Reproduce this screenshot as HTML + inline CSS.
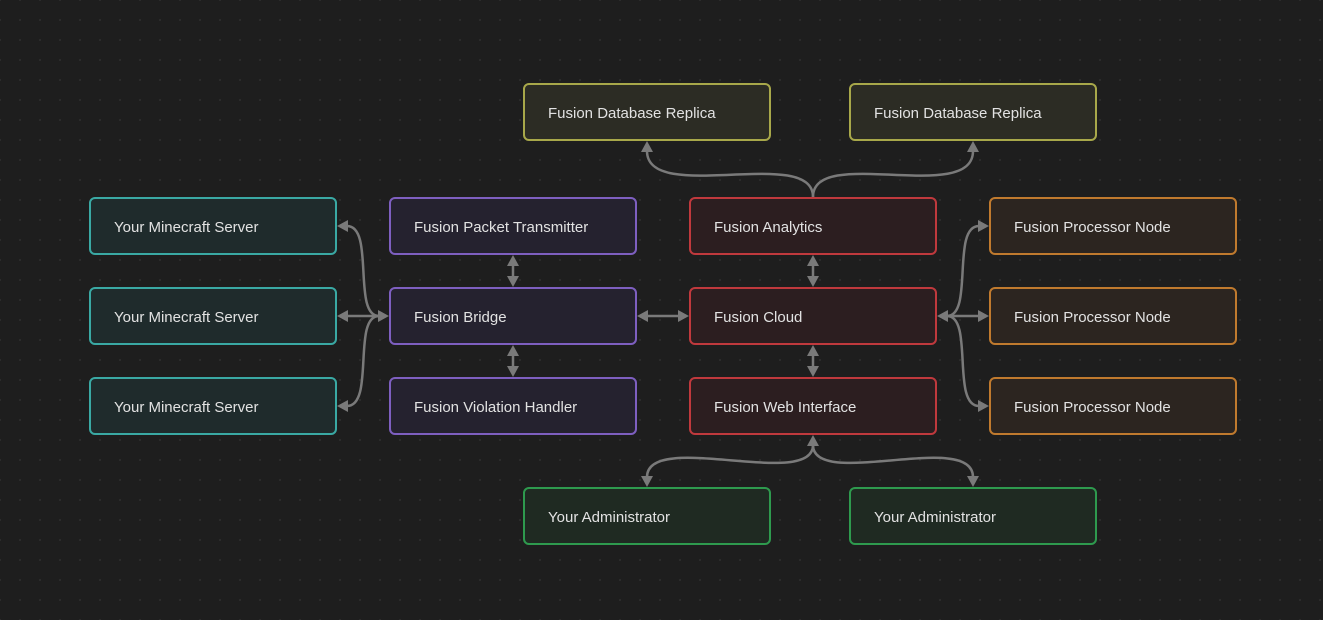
<!DOCTYPE html>
<html><head><meta charset="utf-8"><style>
html,body{margin:0;padding:0;background:#1e1e1e;}
body{width:1323px;height:620px;overflow:hidden;position:relative;font-family:"Liberation Sans",sans-serif;
background-image:radial-gradient(circle,#2c2c2c 1px,transparent 1.3px);background-size:20px 20px;background-position:10px 10px;}
.n{position:absolute;width:248px;height:58px;border:2.5px solid;border-radius:6px;color:#e2e2e2;font-size:15px;padding-left:23px;padding-top:3px;box-sizing:border-box;display:flex;align-items:center;}
.t{border-color:#3aa9a4;background:#1f2b2c}
.p{border-color:#7e5fc0;background:#25222f}
.r{border-color:#c0393d;background:#2c1e20}
.o{border-color:#c07a2e;background:#2c2520}
.y{border-color:#a8a84a;background:#2c2c24}
.g{border-color:#2e9a4e;background:#1f2a22}
svg{position:absolute;left:0;top:0}
</style></head><body>
<svg width="1323" height="620">
<g fill="none" stroke="#7a7a7a" stroke-width="2.5">
<path d="M347,226 C375,226 352,316 379,316"/>
<path d="M347,316 L379,316"/>
<path d="M347,406 C375,406 352,316 379,316"/>
<path d="M513,265 L513,277"/>
<path d="M513,355 L513,367"/>
<path d="M647,316 L679,316"/>
<path d="M813,265 L813,277"/>
<path d="M813,355 L813,367"/>
<path d="M979,226 C951,226 974,316 947,316"/>
<path d="M979,316 L947,316"/>
<path d="M979,406 C951,406 974,316 947,316"/>
<path d="M813,445 C813,490 647,430 647,477"/>
<path d="M813,445 C813,490 973,430 973,477"/>
<path d="M813,197 C813,145 647,205 647,151"/>
<path d="M813,197 C813,145 973,205 973,151"/>
</g>
<g fill="#7a7a7a">
<polygon points="337,226 348,220 348,232"/>
<polygon points="337,316 348,310 348,322"/>
<polygon points="337,406 348,400 348,412"/>
<polygon points="389,316 378,310 378,322"/>
<polygon points="513,255 507,266 519,266"/>
<polygon points="513,287 507,276 519,276"/>
<polygon points="513,345 507,356 519,356"/>
<polygon points="513,377 507,366 519,366"/>
<polygon points="813,255 807,266 819,266"/>
<polygon points="813,287 807,276 819,276"/>
<polygon points="813,345 807,356 819,356"/>
<polygon points="813,377 807,366 819,366"/>
<polygon points="637,316 648,310 648,322"/>
<polygon points="689,316 678,310 678,322"/>
<polygon points="937,316 948,310 948,322"/>
<polygon points="989,226 978,220 978,232"/>
<polygon points="989,316 978,310 978,322"/>
<polygon points="989,406 978,400 978,412"/>
<polygon points="647,141 641,152 653,152"/>
<polygon points="973,141 967,152 979,152"/>
<polygon points="813,435 807,446 819,446"/>
<polygon points="647,487 641,476 653,476"/>
<polygon points="973,487 967,476 979,476"/>
</g>
</svg>
<div class="n y" style="left:523px;top:83px">Fusion Database Replica</div>
<div class="n y" style="left:849px;top:83px">Fusion Database Replica</div>
<div class="n t" style="left:89px;top:197px">Your Minecraft Server</div>
<div class="n t" style="left:89px;top:287px">Your Minecraft Server</div>
<div class="n t" style="left:89px;top:377px">Your Minecraft Server</div>
<div class="n p" style="left:389px;top:197px">Fusion Packet Transmitter</div>
<div class="n p" style="left:389px;top:287px">Fusion Bridge</div>
<div class="n p" style="left:389px;top:377px">Fusion Violation Handler</div>
<div class="n r" style="left:689px;top:197px">Fusion Analytics</div>
<div class="n r" style="left:689px;top:287px">Fusion Cloud</div>
<div class="n r" style="left:689px;top:377px">Fusion Web Interface</div>
<div class="n o" style="left:989px;top:197px">Fusion Processor Node</div>
<div class="n o" style="left:989px;top:287px">Fusion Processor Node</div>
<div class="n o" style="left:989px;top:377px">Fusion Processor Node</div>
<div class="n g" style="left:523px;top:487px">Your Administrator</div>
<div class="n g" style="left:849px;top:487px">Your Administrator</div>
</body></html>
